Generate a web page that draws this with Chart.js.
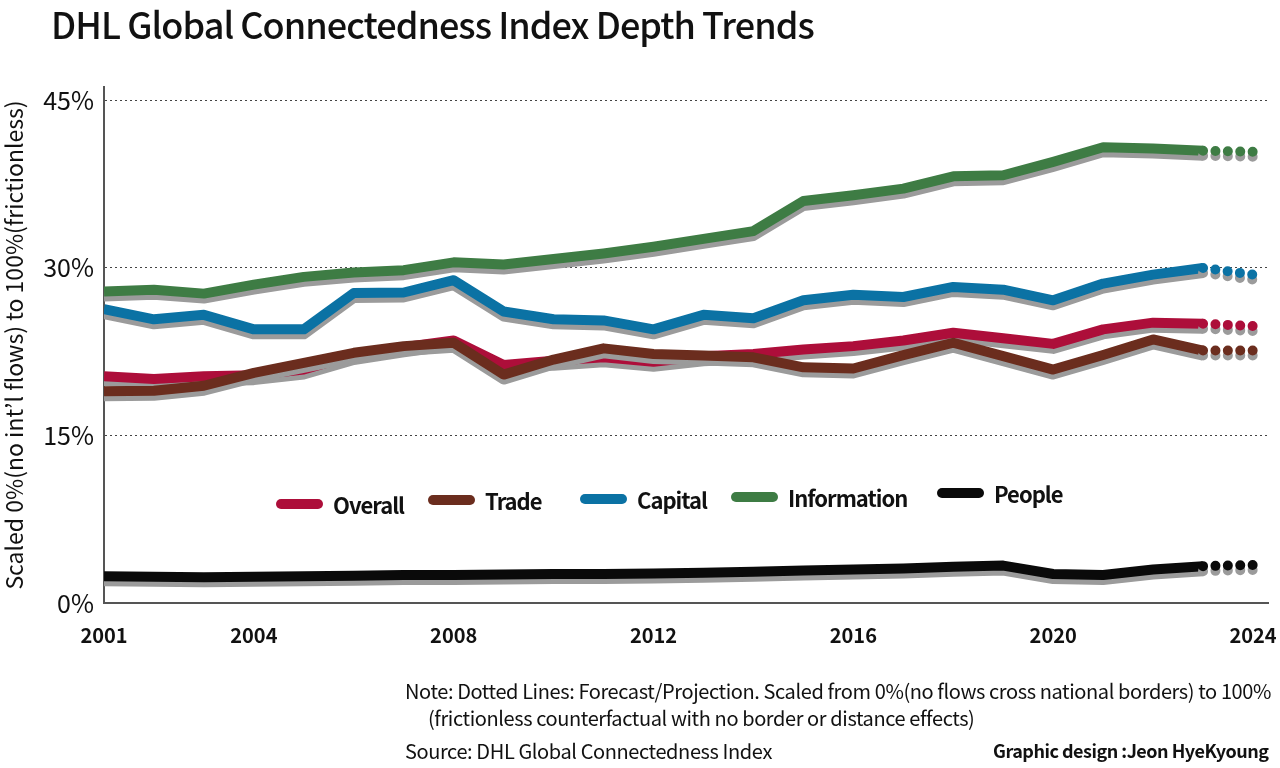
<!DOCTYPE html>
<html>
<head>
<meta charset="utf-8">
<script src="https://cdn.jsdelivr.net/npm/chart.js@4/dist/chart.umd.min.js"></script>
<style>
  body { margin: 0; background: #fff; }
  #wrap { position: relative; width: 1280px; height: 768px; overflow: hidden; font-family: "Noto Sans CJK KR", "Noto Sans", sans-serif; color: #111; }
  #chart { position: absolute; left: 0; top: 0; }
  #title { position: absolute; left: 51px; top: -3px; font-size: 36px; font-weight: 500; letter-spacing: -0.95px; white-space: nowrap; }
  .leg { position: absolute; height: 30px; display: flex; align-items: center; white-space: nowrap; }
  .leg .sw { width: 47px; height: 10px; border-radius: 5px; margin-right: 10px; }
  .leg .tx { font-size: 22px; font-weight: 700; letter-spacing: -1px; }
  .note { position: absolute; font-size: 20px; letter-spacing: -0.4px; white-space: nowrap; }
</style>
</head>
<body>
<div id="wrap">
  <canvas id="chart" width="1280" height="768"></canvas>
  <div id="title">DHL Global Connectedness Index Depth Trends</div>
  <div id="legend"></div>
  <div class="note" style="left:405px; top:676px;">Note: Dotted Lines: Forecast/Projection. Scaled from 0%(no flows cross national borders) to 100%</div>
  <div class="note" style="left:428px; top:703px;">(frictionless counterfactual with no border or distance effects)</div>
  <div class="note" style="left:405px; top:736px;">Source: DHL Global Connectedness Index</div>
  <div class="note" style="left:993px; top:737px; font-weight:700; font-size:18px; letter-spacing:-0.5px;">Graphic design :Jeon HyeKyoung</div>
</div>
<script>
// years 2001..2024, last step (2023 -> 2024) is the forecast
const years = [2001, 2002, 2003, 2004, 2005, 2006, 2007, 2008, 2009, 2010, 2011, 2012,
               2013, 2014, 2015, 2016, 2017, 2018, 2019, 2020, 2021, 2022, 2023, 2024]

const overall     = [20.3, 20.05, 20.3, 20.4, 20.9, 22.2, 22.9, 23.5, 21.3, 21.7, 22.0, 21.6,
                     22.1, 22.3, 22.7, 23.0, 23.5, 24.2, 23.7, 23.2, 24.5, 25.1, 25.0, 24.8]
const trade       = [18.95, 19.0, 19.45, 20.6, 21.5, 22.4, 23.0, 23.3, 20.45, 21.8, 22.8, 22.3,
                     22.15, 22.0, 21.1, 21.0, 22.2, 23.3, 22.1, 20.9, 22.2, 23.6, 22.6, 22.6]
const capital     = [26.3, 25.4, 25.8, 24.5, 24.5, 27.75, 27.8, 28.9, 26.1, 25.4, 25.3, 24.5,
                     25.8, 25.5, 27.1, 27.6, 27.4, 28.3, 28.05, 27.1, 28.6, 29.4, 30.0, 29.4]
const information = [27.9, 28.05, 27.7, 28.5, 29.2, 29.6, 29.8, 30.5, 30.3, 30.8, 31.3, 31.9,
                     32.6, 33.3, 36.0, 36.5, 37.1, 38.2, 38.3, 39.5, 40.8, 40.7, 40.5, 40.4]
const people      = [2.4, 2.35, 2.3, 2.35, 2.4, 2.45, 2.5, 2.5, 2.55, 2.6, 2.6, 2.65,
                     2.7, 2.8, 2.9, 3.0, 3.1, 3.25, 3.35, 2.6, 2.5, 3.0, 3.3, 3.4]

const seriesNames  = ['Overall', 'Trade', 'Capital', 'Information', 'People']
const seriesColors = ['#ad0e3a', '#6b2d1e', '#0b72a4', '#3e7c44', '#0a0a0a']
const seriesValues = [overall, trade, capital, information, people]
const drawOrder    = [2, 1, 3, 4, 5]   // trade sits on top of overall

const xTicks = [2001, 2004, 2008, 2012, 2016, 2020, 2024]
const yTicks = [0, 15, 30, 45]

// legend placement (inside plot, slightly tilted like the print version)
const legendX = [276, 428, 580, 731, 937]
const legendY = [489, 485, 484, 482, 478]

const legendBox = document.getElementById('legend')
seriesNames.forEach((name, i) => {
    let item = document.createElement('div')
    item.className = 'leg'
    item.style.left = legendX[i] + 'px'
    item.style.top = legendY[i] + 'px'
    item.innerHTML = '<div class="sw" style="background:' + seriesColors[i] + '"></div><div class="tx">' + name + '</div>'
    legendBox.appendChild(item)
})

const lastIdx = years.length - 1

const datasets = seriesNames.map((name, i) => ({
    label: name,
    data: years.map((yr, j) => ({ x: yr, y: seriesValues[i][j] })),
    borderColor: seriesColors[i],
    borderWidth: 10,
    borderCapStyle: 'butt',
    borderJoinStyle: 'round',
    pointRadius: 0,
    tension: 0,
    order: drawOrder[i],
    segment: {
        borderDash: ctx => ctx.p1DataIndex === lastIdx ? [0, 12.4] : undefined,
        borderCapStyle: ctx => ctx.p1DataIndex === lastIdx ? 'round' : undefined
    }
}))

// flat gray drop shadow under every line
const shadowPlugin = {
    id: 'dropShadow',
    beforeDatasetDraw(chart) {
        let c = chart.ctx
        c.save()
        c.shadowColor = '#9b9b9b'
        c.shadowBlur = 0
        c.shadowOffsetX = 0
        c.shadowOffsetY = 5
    },
    afterDatasetDraw(chart) {
        chart.ctx.restore()
    }
}

new Chart(document.getElementById('chart'), {
    type: 'line',
    data: { datasets: datasets },
    plugins: [shadowPlugin],
    options: {
        responsive: false,
        animation: false,
        devicePixelRatio: 1,
        layout: { padding: { top: 87, right: 12, bottom: 125, left: 0 } },
        plugins: { legend: { display: false }, tooltip: { enabled: false } },
        scales: {
            x: {
                type: 'linear',
                min: 2001,
                max: 2024.3,
                afterBuildTicks: scale => { scale.ticks = xTicks.map(v => ({ value: v })) },
                afterFit: scale => {
                    scale.height = 40
                    scale.paddingLeft = 0
                    scale.paddingRight = 0
                },
                grid: { display: false },
                border: { display: true, color: '#555', width: 2 },
                ticks: {
                    color: '#111',
                    padding: 12,
                    maxRotation: 0,
                    font: { family: '"Noto Sans CJK KR", sans-serif', size: 20, weight: 'bold' },
                    callback: v => String(v)
                }
            },
            y: {
                min: 0,
                max: 46.2,
                afterBuildTicks: scale => { scale.ticks = yTicks.map(v => ({ value: v })) },
                afterFit: scale => { scale.width = 104 },
                grid: {
                    drawTicks: false,
                    lineWidth: 1,
                    color: ctx => ctx.tick && ctx.tick.value === 0 ? 'rgba(0,0,0,0)' : '#444'
                },
                border: { display: true, color: '#555', width: 2, dash: [2, 3] },
                ticks: {
                    color: '#111',
                    padding: 10,
                    font: { family: '"Noto Sans CJK KR", sans-serif', size: 25 },
                    callback: v => v + '%'
                },
                title: {
                    display: true,
                    text: 'Scaled 0%(no int\u2019l flows) to 100%(frictionless)',
                    color: '#111',
                    padding: { top: 0, bottom: 0 },
                    font: { family: '"Noto Sans CJK KR", sans-serif', size: 23 }
                }
            }
        }
    }
})
</script>
</body>
</html>
